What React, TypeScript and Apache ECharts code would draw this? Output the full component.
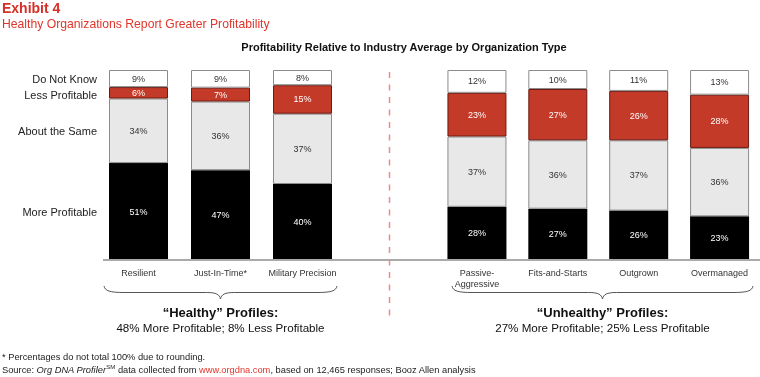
import React, { useEffect, useRef } from 'react';
import * as echarts from 'echarts';

const healthyCats = ['Resilient', 'Just-In-Time*', 'Military Precision'];
const unhealthyCats = ['Passive-\nAggressive', 'Fits-and-Starts', 'Outgrown', 'Overmanaged'];
const segmentNames = ['More Profitable', 'About the Same', 'Less Profitable', 'Do Not Know'];

const healthyMore = [51, 47.3, 40];
const healthySame = [34, 36.1, 37];
const healthyLess = [6, 7.3, 15];
const healthyDNK = [9, 9.3, 8];

const unhealthyMore = [28, 27, 26, 23];
const unhealthySame = [37, 36, 37, 36];
const unhealthyLess = [23, 27, 26, 28];
const unhealthyDNK = [12, 10, 11, 13];

const groupTitles = ['\u201cHealthy\u201d Profiles:', '\u201cUnhealthy\u201d Profiles:'];
const groupSummaries = ['48% More Profitable; 8% Less Profitable', '27% More Profitable; 25% Less Profitable'];

const FONT = 'Liberation Sans, Arial, sans-serif';

const segStyles = [
  { color: '#000000', border: '#000000', bw: 0, label: '#ffffff' },
  { color: '#e8e8e8', border: '#8c8c8c', bw: 1, label: '#333333' },
  { color: '#c33a28', border: '#6e1a10', bw: 1, label: '#ffffff' },
  { color: '#ffffff', border: '#8c8c8c', bw: 1, label: '#333333' },
];

function bracePath(W: number, c: number) {
  return `M0,0 C1,5 6,6.5 20,6.5 L${c - 14},6.5 C${c - 4},6.5 ${c - 1},8.5 ${c},13 C${c + 1},8.5 ${c + 4},6.5 ${c + 14},6.5 L${W - 20},6.5 C${W - 6},6.5 ${W - 1},5 ${W},0`;
}

echarts.graphic.registerShape('braceL', echarts.graphic.extendPath(bracePath(233, 116.5), {}));
echarts.graphic.registerShape('braceR', echarts.graphic.extendPath(bracePath(301, 150.5), {}));

function makeSeries(gridIdx: number, arrays: number[][]) {
  return arrays.map((arr, i) => ({
    type: 'bar',
    name: segmentNames[i],
    xAxisIndex: gridIdx,
    yAxisIndex: gridIdx,
    stack: 'g' + gridIdx,
    barWidth: 59,
    barGap: '-100%',
    data: arr,
    itemStyle: { color: segStyles[i].color, borderColor: segStyles[i].border, borderWidth: segStyles[i].bw },
    label: {
      show: true,
      position: 'inside',
      fontSize: 9,
      fontFamily: FONT,
      color: segStyles[i].label,
      formatter: (p: any) => Math.round(p.value) + '%',
    },
    emphasis: { disabled: true },
  }));
}

const center = { textAlign: 'center', textVerticalAlign: 'middle', align: 'center', verticalAlign: 'middle' };

function App() {
  const ref = useRef<HTMLDivElement>(null);
  useEffect(() => {
    if (!ref.current) return;
    const chart = echarts.init(ref.current, null, { renderer: 'svg' });
    const healthyArrays = [healthyMore, healthySame, healthyLess, healthyDNK];
    const unhealthyArrays = [unhealthyMore, unhealthySame, unhealthyLess, unhealthyDNK];

    const legendSeries = healthyArrays.map((arr, i) => ({
      type: 'bar',
      name: segmentNames[i] + ' label',
      xAxisIndex: 0,
      yAxisIndex: 0,
      stack: 'lgd',
      barWidth: 59,
      barGap: '-100%',
      silent: true,
      data: arr.map((v, j) => (j === 0 ? v : '-')),
      itemStyle: { color: 'rgba(0,0,0,0)' },
      label: {
        show: true,
        position: 'left',
        distance: 12,
        fontSize: 11,
        fontFamily: FONT,
        color: '#222',
        offset: i === 2 ? [0, 2] : [0, 0],
        formatter: () => segmentNames[i],
      },
      emphasis: { disabled: true },
    }));

    const axisLabel = { interval: 0, fontSize: 9, fontFamily: FONT, color: '#333', margin: 7, lineHeight: 11 };

    chart.setOption({
      animation: false,
      textStyle: { fontFamily: FONT },
      grid: [
        { left: 97.5, top: 70, width: 246, height: 190 },
        { left: 436.5, top: 70, width: 327, height: 190 },
      ],
      xAxis: [
        { gridIndex: 0, type: 'category', data: healthyCats, axisLine: { show: false }, axisTick: { show: false }, axisLabel },
        { gridIndex: 1, type: 'category', data: unhealthyCats, axisLine: { show: false }, axisTick: { show: false }, axisLabel },
      ],
      yAxis: [
        { gridIndex: 0, type: 'value', min: 0, max: 100, show: false },
        { gridIndex: 1, type: 'value', min: 0, max: 100, show: false },
      ],
      series: [...makeSeries(0, healthyArrays), ...makeSeries(1, unhealthyArrays), ...legendSeries],
      graphic: [
        { type: 'text', left: 2, top: 1, style: { text: 'Exhibit 4', fontSize: 14, fontWeight: 'bold', fontFamily: FONT, fill: '#d72e27' } },
        { type: 'text', left: 2, top: 18, style: { text: 'Healthy Organizations Report Greater Profitability', fontSize: 12.2, fontFamily: FONT, fill: '#e0352b' } },
        { type: 'text', x: 404, y: 47, style: { text: 'Profitability Relative to Industry Average by Organization Type', fontSize: 11, fontWeight: 'bold', fontFamily: FONT, fill: '#111', ...center } },
        { type: 'line', shape: { x1: 103, y1: 260, x2: 760, y2: 260 }, style: { stroke: '#aaaaaa', lineWidth: 2 }, z: 10 },
        { type: 'line', shape: { x1: 389.5, y1: 72, x2: 389.5, y2: 318 }, style: { stroke: '#ef8a8a', lineWidth: 1.5, lineDash: [6, 6.5] }, z: 11 },
        { type: 'braceL', x: 104, y: 286, style: { stroke: '#555', lineWidth: 1, fill: null } },
        { type: 'braceR', x: 452, y: 286, style: { stroke: '#555', lineWidth: 1, fill: null } },
        { type: 'text', x: 220.5, y: 312, style: { text: groupTitles[0], fontSize: 13, fontWeight: 'bold', fontFamily: FONT, fill: '#111', ...center } },
        { type: 'text', x: 220.5, y: 327, style: { text: groupSummaries[0], fontSize: 11.6, fontFamily: FONT, fill: '#111', ...center } },
        { type: 'text', x: 602.5, y: 312, style: { text: groupTitles[1], fontSize: 13, fontWeight: 'bold', fontFamily: FONT, fill: '#111', ...center } },
        { type: 'text', x: 602.5, y: 327, style: { text: groupSummaries[1], fontSize: 11.6, fontFamily: FONT, fill: '#111', ...center } },
        { type: 'text', x: 2, y: 357, style: { text: '* Percentages do not total 100% due to rounding.', fontSize: 9.3, fontFamily: FONT, fill: '#222', textVerticalAlign: 'middle', verticalAlign: 'middle' } },
        {
          type: 'text', x: 2, y: 370,
          style: {
            text: 'Source: {i|Org DNA Profiler}{sup|SM} data collected from {r|www.orgdna.com}, based on 12,465 responses; Booz Allen analysis',
            fontSize: 9.3, fontFamily: FONT, fill: '#222', textVerticalAlign: 'middle', verticalAlign: 'middle',
            rich: {
              i: { fontStyle: 'italic', fontSize: 9.3, fontFamily: FONT, fill: '#222', lineHeight: 12 },
              sup: { fontSize: 6, fontFamily: FONT, fill: '#222', lineHeight: 12, verticalAlign: 'top' },
              r: { fontSize: 9.3, fontFamily: FONT, fill: '#e0352b', lineHeight: 12 },
            },
          },
        },
      ],
    });
    return () => chart.dispose();
  }, []);
  return <div ref={ref} style={{ position: 'fixed', left: 0, top: 0, width: 760, height: 377 }} />;
}

export default App;
